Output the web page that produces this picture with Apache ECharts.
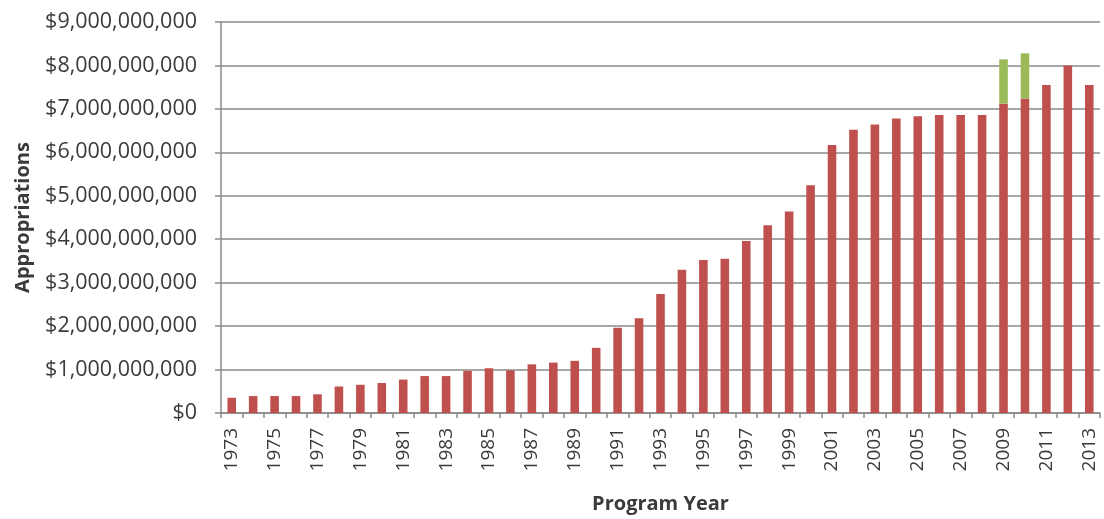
<!DOCTYPE html>
<html>
<head>
<meta charset="utf-8">
<style>
  html, body { margin: 0; padding: 0; background: #ffffff; }
  #chart { width: 1104px; height: 519px; }
</style>
<script src="https://cdn.jsdelivr.net/npm/echarts@6/dist/echarts.min.js"></script>
</head>
<body>
<div id="chart"></div>
<script>
// Program years 1973-2013
const years = [];
for (let y = 1973; y <= 2013; y++) years.push(String(y));

// Regular appropriations, in billions of dollars
const regularBillions = [
  0.35, 0.39, 0.39, 0.39, 0.43, 0.61, 0.65, 0.69, 0.77, 0.85,
  0.85, 0.97, 1.03, 0.98, 1.12, 1.16, 1.20, 1.50, 1.96, 2.18,
  2.74, 3.30, 3.52, 3.55, 3.96, 4.32, 4.64, 5.24, 6.17, 6.52,
  6.64, 6.78, 6.83, 6.86, 6.86, 6.86, 7.12, 7.24, 7.55, 8.00,
  7.55
];

// Additional (recovery act) appropriations, in billions of dollars
const additionalBillions = [
  null, null, null, null, null, null, null, null, null, null,
  null, null, null, null, null, null, null, null, null, null,
  null, null, null, null, null, null, null, null, null, null,
  null, null, null, null, null, null, 1.02, 1.04, null, null,
  null
];

// Y-axis tick values, in dollars
const yTicks = [0, 1e9, 2e9, 3e9, 4e9, 5e9, 6e9, 7e9, 8e9, 9e9];

const toDollars = v => (v == null ? null : Math.round(v * 1e9));

function money(v) {
  return '$' + String(Math.round(v)).replace(/\B(?=(\d{3})+(?!\d))/g, ',');
}

const textColor = '#3a3a3a';
const gridColor = '#8a8a8a';
const font = '"Open Sans", "Noto Sans", sans-serif';

const chart = echarts.init(document.getElementById('chart'), null, { renderer: 'canvas' });

chart.setOption({
  animation: false,
  backgroundColor: '#ffffff',
  grid: { left: 221, right: 4, top: 22, bottom: 103, containLabel: false },
  xAxis: {
    type: 'category',
    data: years,
    name: 'Program Year',
    nameLocation: 'middle',
    nameGap: 81,
    nameTextStyle: { fontFamily: font, fontWeight: 'bold', fontSize: 20, color: textColor },
    axisLine: { show: true, lineStyle: { color: gridColor, width: 1.5 } },
    axisTick: { show: true, alignWithLabel: false, interval: 0, length: 5, lineStyle: { color: gridColor, width: 1.5 } },
    axisLabel: {
      interval: 1,
      rotate: 90,
      margin: 15,
      fontFamily: font,
      fontSize: 19,
      color: textColor
    },
    splitLine: { show: false }
  },
  yAxis: {
    type: 'value',
    min: yTicks[0],
    max: yTicks[yTicks.length - 1],
    interval: yTicks[1] - yTicks[0],
    name: 'Appropriations',
    nameLocation: 'middle',
    nameGap: 188,
    nameRotate: 90,
    nameTextStyle: { fontFamily: font, fontWeight: 'bold', fontSize: 20, color: textColor },
    axisLine: { show: true, lineStyle: { color: gridColor, width: 1.5 } },
    axisTick: { show: true, length: 6, lineStyle: { color: gridColor, width: 1.5 } },
    axisLabel: {
      margin: 24,
      fontFamily: font,
      fontSize: 21.5,
      color: textColor,
      formatter: v => money(v)
    },
    splitLine: { show: true, lineStyle: { color: gridColor, width: 1.5 } }
  },
  series: [
    {
      name: 'Regular',
      type: 'bar',
      stack: 'total',
      barWidth: '40%',
      itemStyle: { color: '#c0504d' },
      data: regularBillions.map(toDollars)
    },
    {
      name: 'Additional',
      type: 'bar',
      stack: 'total',
      barWidth: '40%',
      itemStyle: { color: '#9bbb59' },
      data: additionalBillions.map(toDollars)
    }
  ]
});
</script>
</body>
</html>
